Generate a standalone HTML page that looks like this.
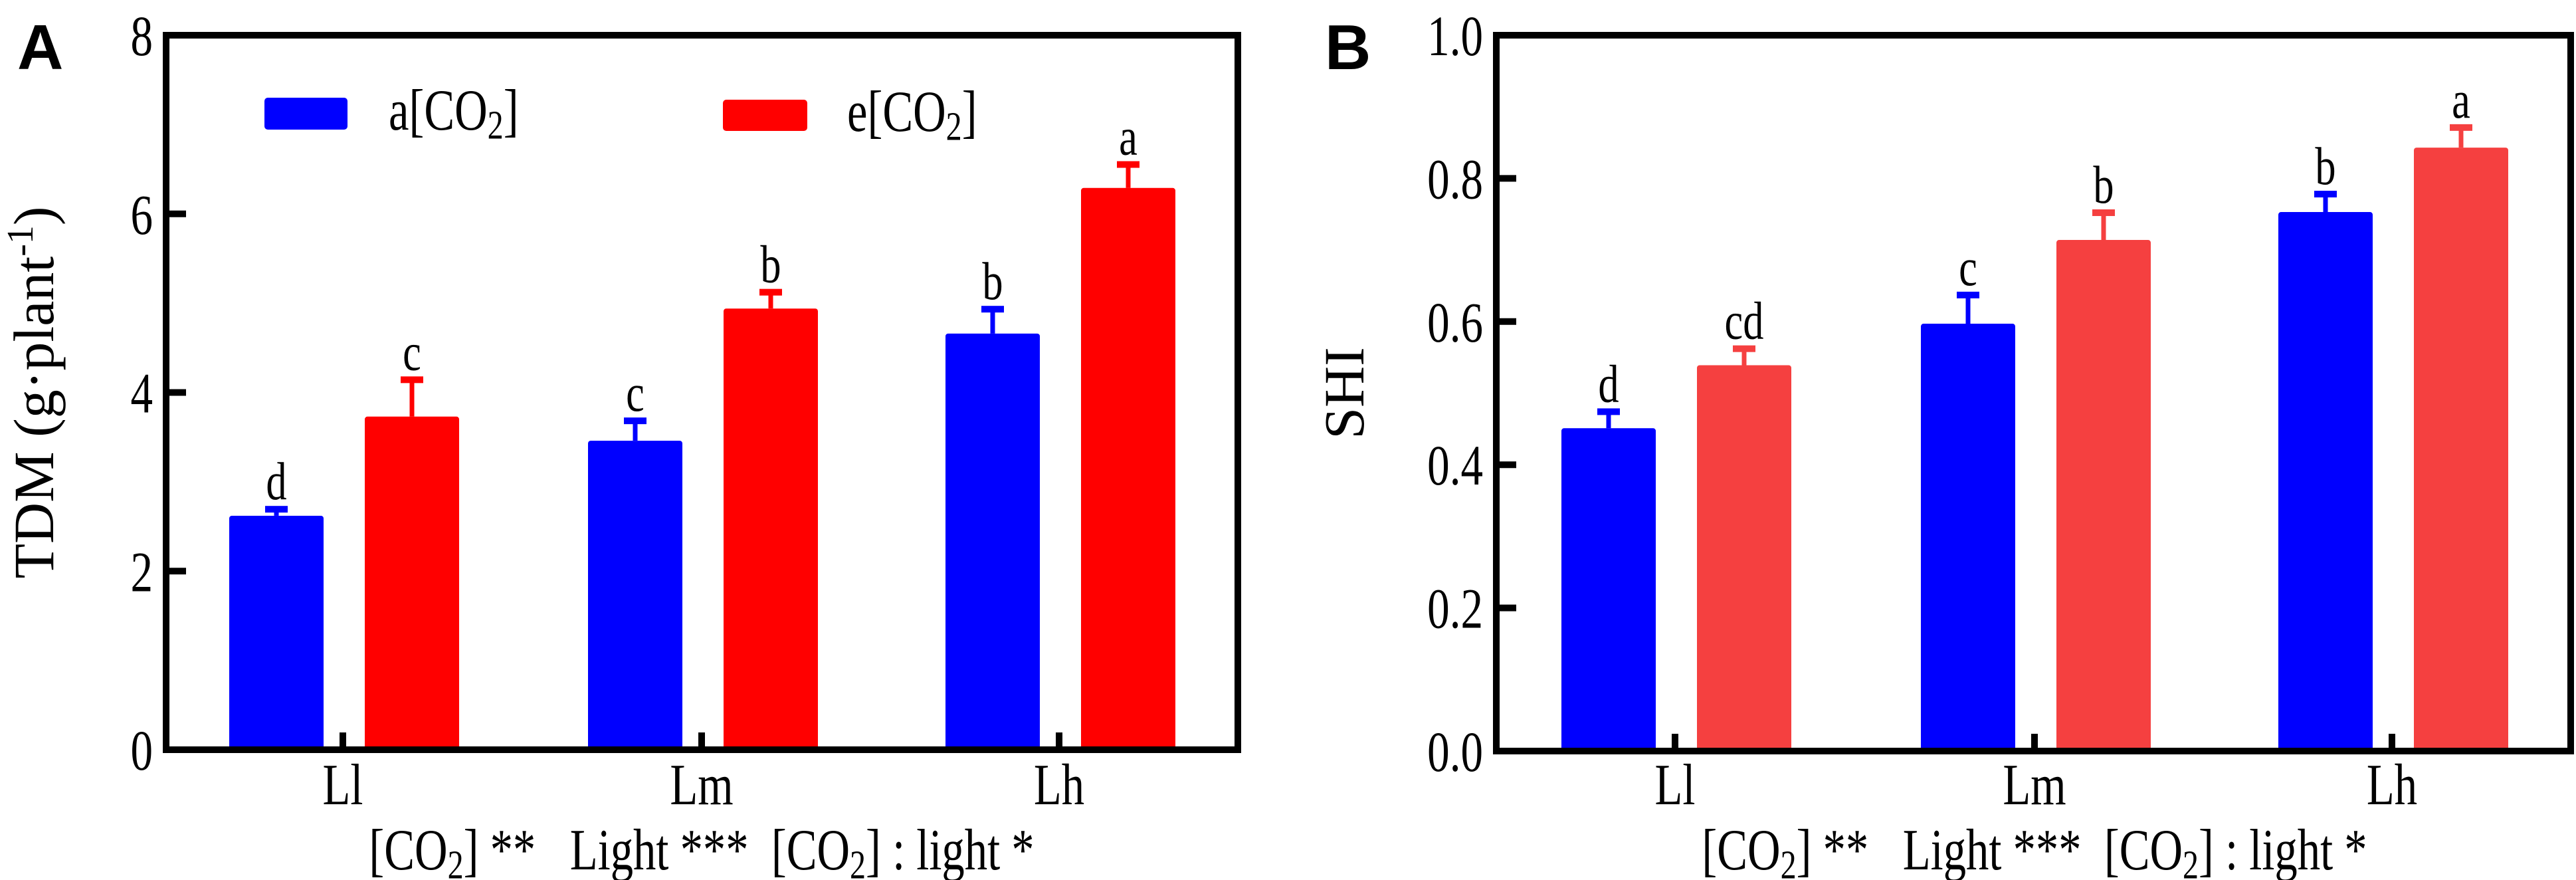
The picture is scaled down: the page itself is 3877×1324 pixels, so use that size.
<!DOCTYPE html>
<html><head><meta charset="utf-8"><style>html,body{margin:0;padding:0;background:#fff}svg{display:block}</style></head>
<body>
<svg id="chart" width="3877" height="1324" viewBox="0 0 3877 1324" xmlns="http://www.w3.org/2000/svg"></svg>
<script>
const categories = ['Ll','Lm','Lh'];
const letterA_amb = ['d','c','b'];
const letterA_ele = ['c','b','a'];
const tdmAmb = [2.62, 3.46, 4.66];
const tdmAmbErr = [0.08, 0.23, 0.28];
const tdmEle = [3.73, 4.94, 6.29];
const tdmEleErr = [0.42, 0.19, 0.27];
const tdmTicks = [0, 2, 4, 6, 8];
const letterB_amb = ['d','c','b'];
const letterB_ele = ['cd','b','a'];
const shiAmb = [0.451, 0.597, 0.753];
const shiAmbErr = [0.024, 0.041, 0.026];
const shiEle = [0.539, 0.714, 0.843];
const shiEleErr = [0.024, 0.039, 0.029];
const shiTicks = ['0.0','0.2','0.4','0.6','0.8','1.0'];

const svg = document.getElementById('chart');
const NS = 'http://www.w3.org/2000/svg';
const SERIF = '"Liberation Serif", serif';
function el(tag, attrs, parent) {
  const e = document.createElementNS(NS, tag);
  for (const k in attrs) e.setAttribute(k, attrs[k]);
  (parent || svg).appendChild(e);
  return e;
}
function txt(x, y, content, size, anchor, name, opts) {
  opts = opts || {};
  const g = el('g', {transform: `translate(${x},${y}) ${opts.rot ? 'rotate(-90)' : ''} scale(${opts.sx || 0.78},1)`});
  const t = el('text', {x: 0, y: 0, 'font-size': size, 'font-family': opts.family || SERIF, 'text-anchor': anchor, fill: opts.fill || '#000', 'font-weight': opts.bold ? 'bold' : 'normal'}, g);
  t.innerHTML = content;
  
  
  return t;
}
const CO2 = 'CO<tspan baseline-shift="-22%" font-size="70%">2</tspan>';

function panel(cfg) {
  const {L, R, T, B, vmax, amb, ambErr, ele, eleErr, la, le, ticks, tickVals, redColor, centers, title, letter, letterX, titleX} = cfg;
  const y = v => B - (v / vmax) * (B - T);
  const g = el('g', {});
  
  
  function bars(vals, errs, letters, off, color, series) {
    vals.forEach((v, i) => {
      const x0 = centers[i] + off;
      const r = el('rect', {x: x0, y: y(v), width: 142, height: B - y(v), fill: color, rx: 4}, g);
      
      
      const cx = x0 + 71, et = y(v + errs[i]);
      const s = el('line', {x1: cx, x2: cx, y1: y(v), y2: et, stroke: color, 'stroke-width': 7}, g);
      
      
      const c = el('rect', {x: cx - 17, y: et - 4, width: 34, height: 10, fill: color}, g);
      
      
      txt(cx, et - 14, letters[i], 80, 'middle', `sig-letter-${series}-${categories[i]}`);
    });
  }
  bars(amb, ambErr, la, -171, '#0000ff', 'ambient');
  bars(ele, eleErr, le, 33, redColor, 'elevated');
  const fr = el('rect', {x: L, y: T, width: R - L, height: B - T, fill: 'none', stroke: '#000', 'stroke-width': 10}, g);
  
  
  tickVals.forEach((v, i) => {
    if (i > 0 && i < tickVals.length - 1) {
      const t = el('line', {x1: L, x2: L + 30, y1: y(v), y2: y(v), stroke: '#000', 'stroke-width': 10}, g);
      
      
    }
    txt(L - 20, y(v) + 30, ticks[i], 86, 'end', 'y-tick-label');
  });
  centers.forEach((c, i) => {
    const t = el('line', {x1: c, x2: c, y1: B, y2: B - 26, stroke: '#000', 'stroke-width': 10}, g);
    
    
    txt(c, 1210, categories[i], 88, 'middle', 'x-tick-label-' + categories[i]);
  });
  const mid = centers[1];
  txt(mid, 1308, `[${CO2}] **&#160;&#160;&#160;Light ***&#160;&#160;[${CO2}] : light *`, 88, 'middle', 'anova-summary');
  txt(titleX, (T + B) / 2, title, 86, 'middle', 'y-axis-title', {rot: true, sx: 1});
  txt(letterX, 104, letter, 96, 'start', 'panel-label', {family: '"Liberation Sans", sans-serif', bold: true, sx: 1});
}

panel({name:'panel-a-tdm', L:250, R:1863, T:53, B:1128, vmax:8, amb:tdmAmb, ambErr:tdmAmbErr, ele:tdmEle, eleErr:tdmEleErr,
  la:letterA_amb, le:letterA_ele, ticks:tdmTicks.map(String), tickVals:tdmTicks, redColor:'#ff0000',
  centers:[516,1056,1594], title:'TDM (g·plant<tspan baseline-shift="super" font-size="65%">-1</tspan>)', letter:'A', letterX:26, titleX:80});
panel({name:'panel-b-shi', L:2252, R:3869, T:53, B:1130, vmax:1, amb:shiAmb, ambErr:shiAmbErr, ele:shiEle, eleErr:shiEleErr,
  la:letterB_amb, le:letterB_ele, ticks:shiTicks, tickVals:shiTicks.map(Number), redColor:'#f54040',
  centers:[2521,3062,3600], title:'SHI', letter:'B', letterX:1994, titleX:2052});

// legend (panel A)
const lg = el('g', {});


const l1 = el('rect', {x: 398, y: 147, width: 125, height: 48, rx: 5, fill: '#0000ff'}, lg);


txt(585, 195, `a[${CO2}]`, 88, 'start', 'legend-label-ambient');
const l2 = el('rect', {x: 1088, y: 150, width: 127, height: 47, rx: 5, fill: '#ff0000'}, lg);


txt(1275, 197, `e[${CO2}]`, 88, 'start', 'legend-label-elevated');
</script>
</body></html>
